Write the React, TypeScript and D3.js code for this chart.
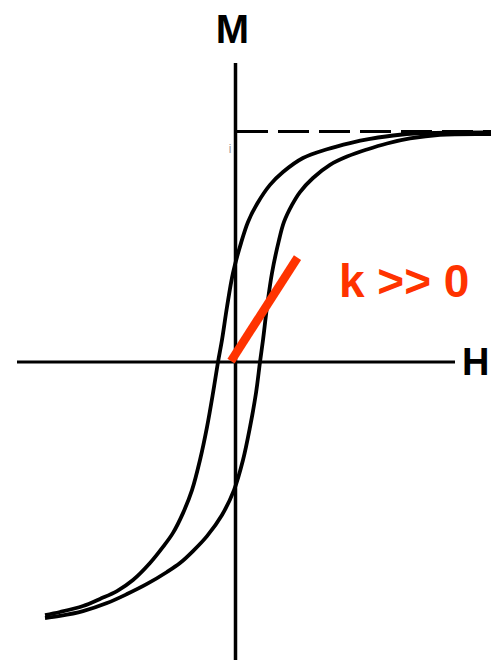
import React from "react";
import * as d3 from "d3";

// Hysteresis loop: magnetisation M against applied field H.
// Descending branch (coming back from positive saturation), as [H, M] pairs.
const descendingBranch: [number, number][] = [
  [2.6, 0.998], [2.0, 0.996], [1.65, 0.988], [1.35, 0.97], [1.15, 0.952],
  [0.92, 0.925], [0.68, 0.887], [0.48, 0.826], [0.35, 0.77], [0.22, 0.687],
  [0.13, 0.609], [0.06, 0.517], [-0.02, 0.387], [-0.08, 0.239], [-0.13, 0.096],
  [-0.17, 0], [-0.22, -0.135], [-0.28, -0.283], [-0.35, -0.426], [-0.43, -0.557],
  [-0.52, -0.657], [-0.62, -0.743], [-0.72, -0.804], [-0.85, -0.874],
  [-1.02, -0.948], [-1.18, -0.996], [-1.35, -1.03], [-1.52, -1.061],
  [-1.75, -1.087], [-1.9, -1.1],
];

// Ascending branch (coming up from negative fields), as [H, M] pairs.
const ascendingBranch: [number, number][] = [
  [-1.9, -1.113], [-1.75, -1.104], [-1.52, -1.083], [-1.28, -1.048],
  [-1.08, -1.009], [-0.88, -0.965], [-0.68, -0.913], [-0.55, -0.874],
  [-0.42, -0.822], [-0.28, -0.757], [-0.13, -0.665], [-0.01, -0.557],
  [0.08, -0.426], [0.15, -0.283], [0.21, -0.135], [0.25, 0], [0.28, 0.096],
  [0.32, 0.239], [0.37, 0.387], [0.44, 0.53], [0.49, 0.609], [0.57, 0.683],
  [0.65, 0.739], [0.78, 0.8], [0.95, 0.857], [1.12, 0.893], [1.32, 0.924],
  [1.52, 0.95], [1.75, 0.972], [2.05, 0.988], [2.6, 0.991],
];

// Saturation magnetisation (dashed asymptote).
const saturationM = 1.0;

// Initial-susceptibility tangent drawn through the origin.
const tangentLine: [number, number][] = [
  [-0.04, 0.004],
  [0.625, 0.454],
];

const axisLabels = { x: "H", y: "M" };
const slopeLabel = "k >> 0";

const WIDTH = 491;
const HEIGHT = 660;
const RED = "#ff3300";
const FONT = "'Liberation Sans', Arial, Helvetica, sans-serif";

export default function App() {
  const x = d3.scaleLinear().domain([-2, 2.5]).range([35, 485]);
  const y = d3.scaleLinear().domain([-1, 1]).range([592, 132]);

  const line = d3
    .line<[number, number]>()
    .x((d) => x(d[0]))
    .y((d) => y(d[1]))
    .curve(d3.curveCatmullRom.alpha(0.5));

  const straight = d3
    .line<[number, number]>()
    .x((d) => x(d[0]))
    .y((d) => y(d[1]));

  const x0 = x(0);
  const y0 = y(0);

  return (
    <svg
      width={WIDTH}
      height={HEIGHT}
      style={{ position: "absolute", left: 0, top: 0, background: "#fff" }}
    >
      {/* axes */}
      <line x1={x0 + 0.5} x2={x0 + 0.5} y1={63} y2={HEIGHT} stroke="#000" strokeWidth={3.5} />
      <line x1={17} x2={455} y1={y0} y2={y0} stroke="#000" strokeWidth={3} />

      {/* saturation asymptote */}
      <line
        x1={x0 + 2}
        x2={x(2.6)}
        y1={y(saturationM) - 0.5}
        y2={y(saturationM) - 0.5}
        stroke="#000"
        strokeWidth={3}
        strokeDasharray="31 10"
      />
      <text x={230} y={153} fontSize={12} fill="#999" fontFamily={FONT} textAnchor="middle">
        i
      </text>

      {/* hysteresis branches */}
      <path d={line(descendingBranch) || ""} fill="none" stroke="#000" strokeWidth={3.8} />
      <path d={line(ascendingBranch) || ""} fill="none" stroke="#000" strokeWidth={3.8} />

      {/* tangent at the origin */}
      <path d={straight(tangentLine) || ""} fill="none" stroke={RED} strokeWidth={8.5} />

      {/* labels */}
      <text x={232.5} y={43} fontSize={40} fontWeight="bold" fontFamily={FONT} textAnchor="middle" fill="#000">
        {axisLabels.y}
      </text>
      <text x={462} y={375} fontSize={38} fontWeight="bold" fontFamily={FONT} fill="#000">
        {axisLabels.x}
      </text>
      <text x={339} y={297} fontSize={46} fontWeight="bold" fontFamily={FONT} fill={RED}>
        {slopeLabel}
      </text>
    </svg>
  );
}
